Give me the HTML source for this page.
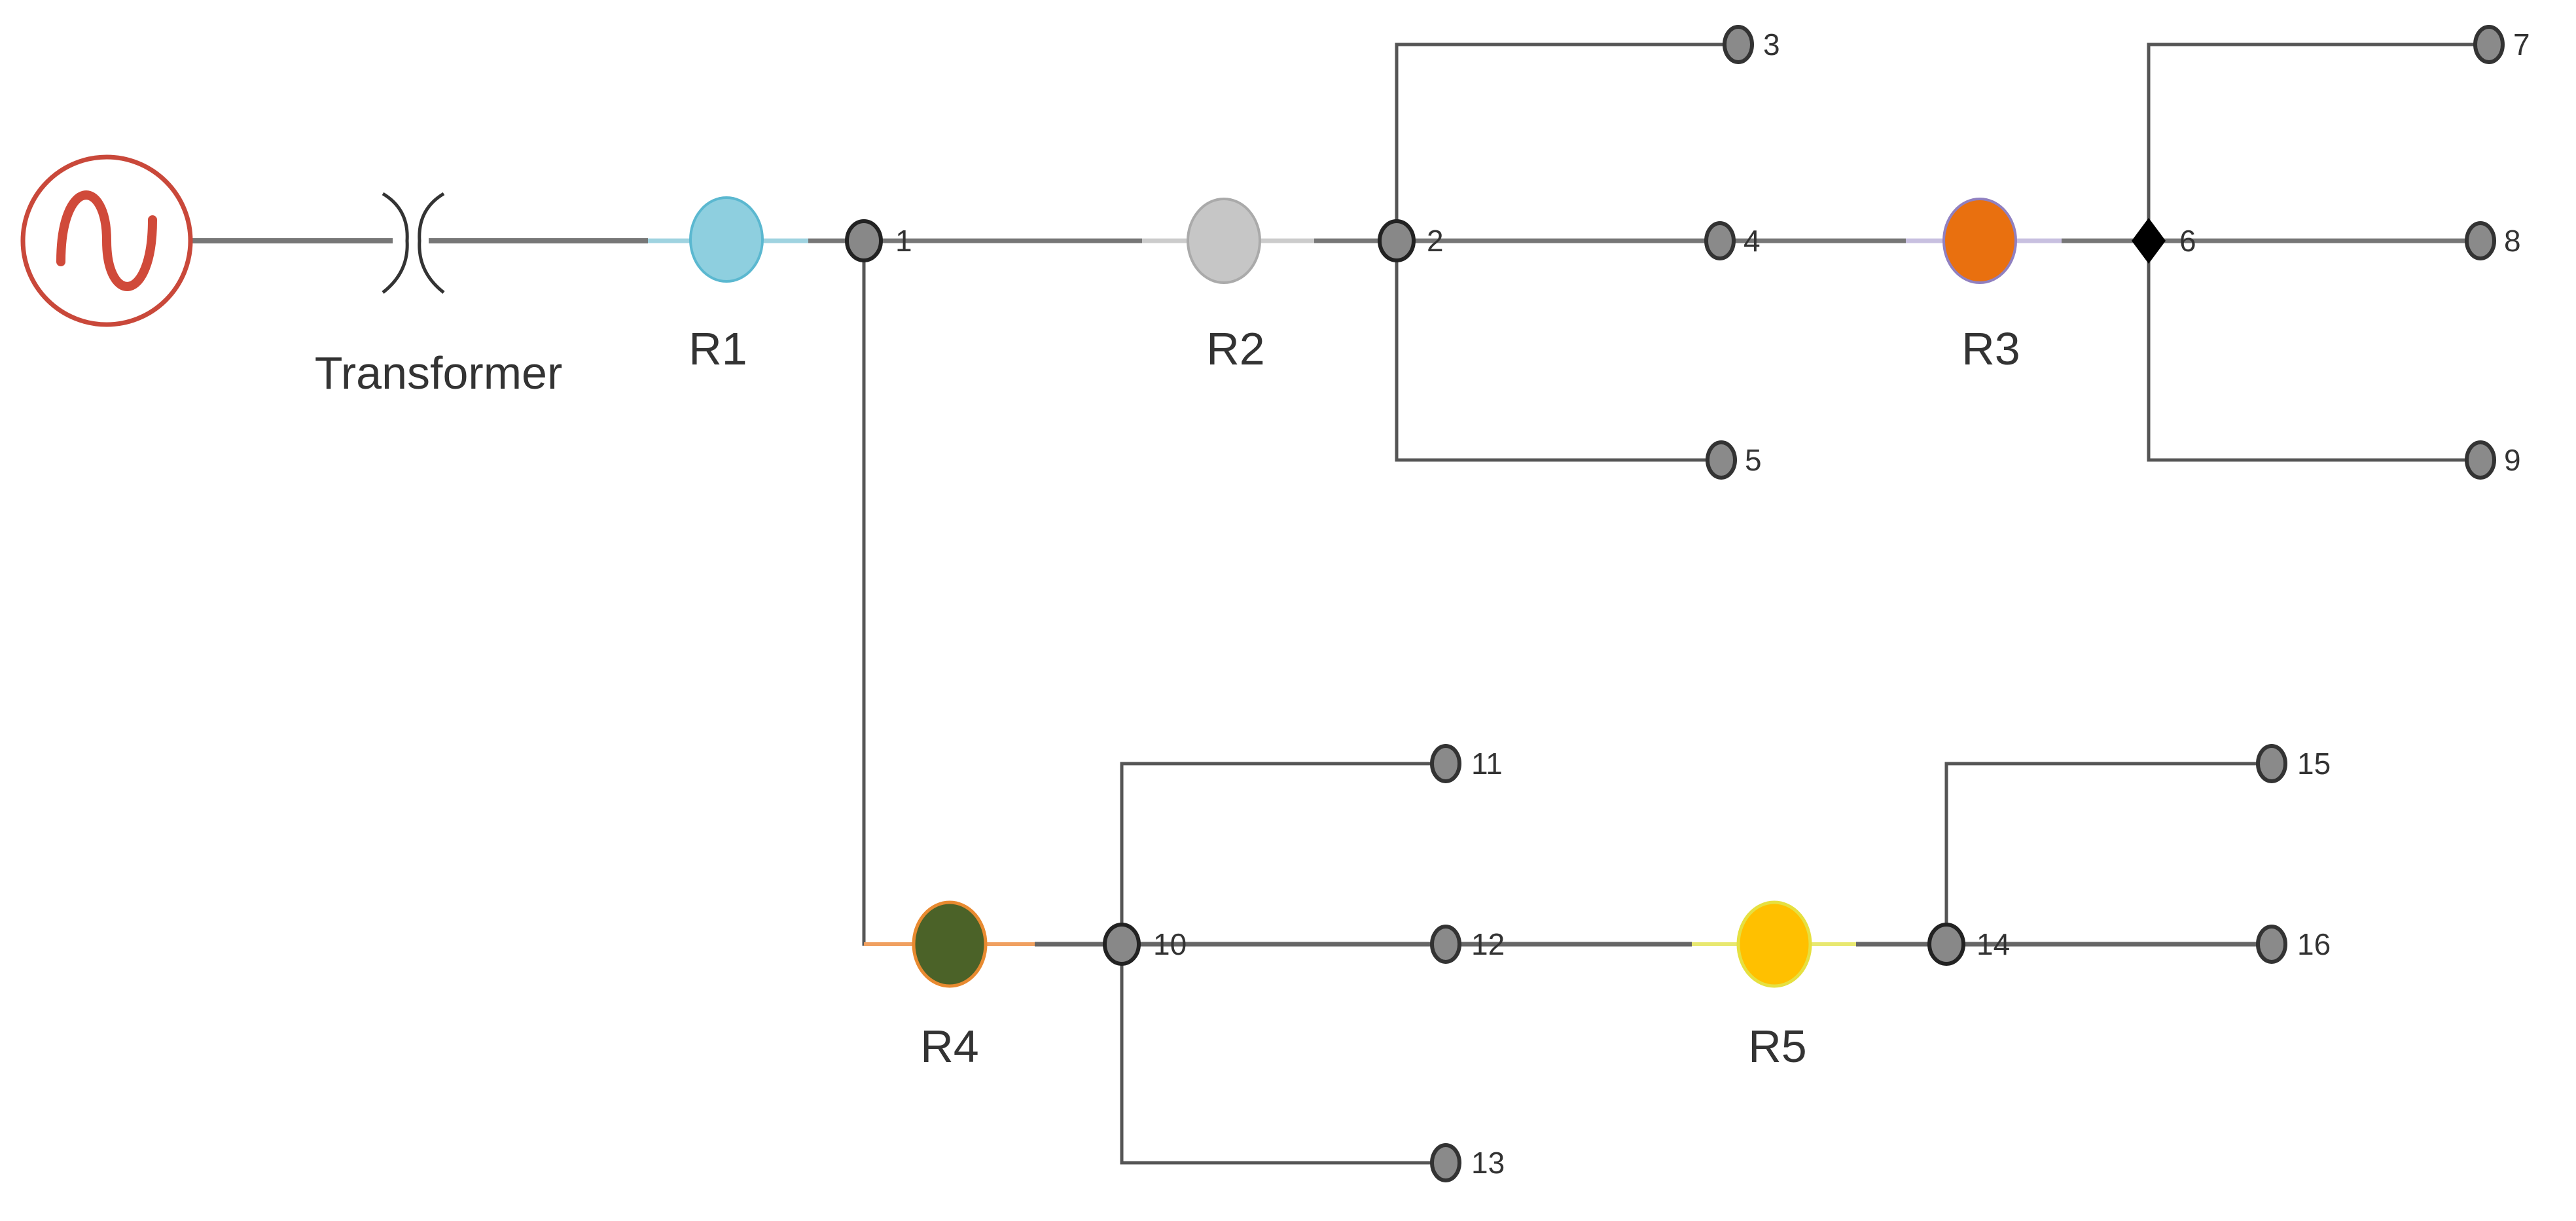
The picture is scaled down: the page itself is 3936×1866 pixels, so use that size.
<!DOCTYPE html>
<html><head><meta charset="utf-8"><style>
html,body{margin:0;padding:0;background:#fff;}
svg{display:block;}
text{font-family:"Liberation Sans Narrow","Liberation Sans",sans-serif;fill:#333;}
</style></head><body>
<svg width="3936" height="1866" viewBox="0 0 3936 1866" xmlns="http://www.w3.org/2000/svg">
<g fill="none" stroke-linecap="butt">
 <line x1="293" y1="368" x2="600" y2="368" stroke="#777" stroke-width="8"/>
 <line x1="655" y1="368" x2="990" y2="368" stroke="#777" stroke-width="8"/>
 <line x1="990" y1="368" x2="1235" y2="368" stroke="#9fd3e0" stroke-width="7"/>
 <line x1="1235" y1="368" x2="1745" y2="368" stroke="#777" stroke-width="7"/>
 <line x1="1745" y1="368" x2="2008" y2="368" stroke="#ccc" stroke-width="7"/>
 <line x1="2008" y1="368" x2="2912" y2="368" stroke="#777" stroke-width="7"/>
 <line x1="2912" y1="368" x2="3150" y2="368" stroke="#c8c0e0" stroke-width="7"/>
 <line x1="3150" y1="368" x2="3790" y2="368" stroke="#777" stroke-width="7"/>
 <polyline points="2656,68 2134,68 2134,703 2630,703" stroke="#555" stroke-width="5"/>
 <polyline points="3803,68 3283,68 3283,703 3790,703" stroke="#555" stroke-width="5"/>
 <polyline points="1320,368 1320,1443 1323,1443" stroke="#555" stroke-width="5"/>
 <line x1="1320" y1="1443" x2="1581" y2="1443" stroke="#f0a060" stroke-width="6"/>
 <line x1="1581" y1="1443" x2="2585" y2="1443" stroke="#666" stroke-width="7"/>
 <line x1="2585" y1="1443" x2="2836" y2="1443" stroke="#e8e870" stroke-width="6"/>
 <line x1="2836" y1="1443" x2="3471" y2="1443" stroke="#666" stroke-width="7"/>
 <polyline points="2209,1167 1714,1167 1714,1777 2209,1777" stroke="#555" stroke-width="5"/>
 <polyline points="3471,1167 2974,1167 2974,1443" stroke="#555" stroke-width="5"/>
 <path d="M585,296 Q625,320 622,368 Q625,416 585,447" stroke="#333" stroke-width="5"/>
 <path d="M678,296 Q638,320 641,368 Q638,416 678,447" stroke="#333" stroke-width="5"/>
</g>
<circle cx="163" cy="368" r="128" fill="#fff" stroke="#c9483a" stroke-width="7"/>
<path d="M93,400 C93,270 163,270 163,368 C163,466 233,466 233,336" fill="none" stroke="#d04a3a" stroke-width="14" stroke-linecap="round"/>
<ellipse cx="1110" cy="366" rx="55" ry="64" fill="#8ecfdf" stroke="#5bb8d0" stroke-width="4"/>
<ellipse cx="1870" cy="368" rx="55" ry="64" fill="#c6c6c6" stroke="#aaa" stroke-width="4"/>
<ellipse cx="3025" cy="368" rx="55" ry="64" fill="#e9700f" stroke="#9080c0" stroke-width="4"/>
<ellipse cx="1451" cy="1443" rx="55" ry="64" fill="#4b6228" stroke="#e88a30" stroke-width="5"/>
<ellipse cx="2711" cy="1443" rx="55" ry="64" fill="#ffc000" stroke="#e6e040" stroke-width="5"/>
<g fill="#888" stroke="#222" stroke-width="6">
 <ellipse cx="1320" cy="368" rx="26" ry="30"/>
 <ellipse cx="2134" cy="368" rx="26" ry="30"/>
 <ellipse cx="1714" cy="1443" rx="26" ry="30"/>
 <ellipse cx="2974" cy="1443" rx="26" ry="30"/>
</g>
<polygon points="3283,333 3309,368 3283,403 3257,368" fill="#000"/>
<g fill="#8a8a8a" stroke="#333" stroke-width="6">
 <ellipse cx="2656" cy="68" rx="21" ry="27"/>
 <ellipse cx="2628" cy="368" rx="21" ry="27"/>
 <ellipse cx="2630" cy="703" rx="21" ry="27"/>
 <ellipse cx="3803" cy="68" rx="21" ry="27"/>
 <ellipse cx="3790" cy="368" rx="21" ry="27"/>
 <ellipse cx="3790" cy="703" rx="21" ry="27"/>
 <ellipse cx="2209" cy="1167" rx="21" ry="27"/>
 <ellipse cx="2209" cy="1443" rx="21" ry="27"/>
 <ellipse cx="2209" cy="1777" rx="21" ry="27"/>
 <ellipse cx="3471" cy="1167" rx="21" ry="27"/>
 <ellipse cx="3471" cy="1443" rx="21" ry="27"/>
</g>
<g font-size="70">
 <text x="670" y="594" text-anchor="middle">Transformer</text>
 <text x="1097" y="557" text-anchor="middle">R1</text>
 <text x="1888" y="557" text-anchor="middle">R2</text>
 <text x="3042" y="557" text-anchor="middle">R3</text>
 <text x="1451" y="1623" text-anchor="middle">R4</text>
 <text x="2716" y="1623" text-anchor="middle">R5</text>
</g>
<g font-size="46">
 <text x="1368" y="384">1</text>
 <text x="2180" y="384">2</text>
 <text x="2694" y="84">3</text>
 <text x="2664" y="384">4</text>
 <text x="2666" y="719">5</text>
 <text x="3330" y="384">6</text>
 <text x="3840" y="84">7</text>
 <text x="3826" y="384">8</text>
 <text x="3826" y="719">9</text>
 <text x="1762" y="1459">10</text>
 <text x="2248" y="1183">11</text>
 <text x="2248" y="1459">12</text>
 <text x="2248" y="1793">13</text>
 <text x="3020" y="1459">14</text>
 <text x="3510" y="1183">15</text>
 <text x="3510" y="1459">16</text>
</g>
</svg>
</body></html>
